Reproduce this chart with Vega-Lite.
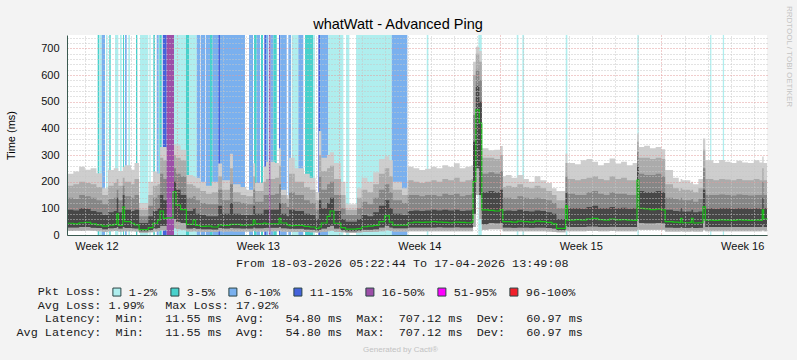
{
  "$schema": "https://vega.github.io/schema/vega-lite/v6.json",
  "width": 700,
  "height": 200,
  "autosize": {"type": "none"},
  "padding": {"left": 67, "top": 35, "right": 30, "bottom": 125},
  "background": "#f3f3f3",
  "view": {"fill": "#ffffff", "stroke": null},
  "datasets": {
    "loss": [
      {"a": 1.555, "b": 1.625, "c": "3-5%"},
      {"a": 1.625, "b": 1.729, "c": "1-2%"},
      {"a": 1.729, "b": 1.872, "c": "6-10%"},
      {"a": 1.915, "b": 1.980, "c": "1-2%"},
      {"a": 2.058, "b": 2.119, "c": "3-5%"},
      {"a": 2.306, "b": 2.449, "c": "1-2%"},
      {"a": 2.522, "b": 2.596, "c": "1-2%"},
      {"a": 2.653, "b": 2.696, "c": "3-5%"},
      {"a": 2.739, "b": 2.813, "c": "6-10%"},
      {"a": 2.882, "b": 2.956, "c": "1-2%"},
      {"a": 3.216, "b": 3.273, "c": "3-5%"},
      {"a": 3.390, "b": 3.750, "c": "1-2%"},
      {"a": 3.793, "b": 3.854, "c": "1-2%"},
      {"a": 3.967, "b": 4.040, "c": "3-5%"},
      {"a": 4.114, "b": 4.201, "c": "6-10%"},
      {"a": 4.227, "b": 4.331, "c": "3-5%"},
      {"a": 4.374, "b": 4.548, "c": "11-15%"},
      {"a": 4.548, "b": 4.864, "c": "16-50%"},
      {"a": 4.864, "b": 5.385, "c": "1-2%"},
      {"a": 5.385, "b": 5.515, "c": "3-5%"},
      {"a": 5.515, "b": 5.849, "c": "1-2%"},
      {"a": 5.849, "b": 5.992, "c": "6-10%"},
      {"a": 6.022, "b": 6.209, "c": "6-10%"},
      {"a": 6.239, "b": 6.425, "c": "6-10%"},
      {"a": 6.425, "b": 6.542, "c": "3-5%"},
      {"a": 6.542, "b": 6.785, "c": "6-10%"},
      {"a": 6.785, "b": 6.859, "c": "11-15%"},
      {"a": 6.859, "b": 7.943, "c": "6-10%"},
      {"a": 8.117, "b": 8.290, "c": "6-10%"},
      {"a": 8.333, "b": 8.451, "c": "3-5%"},
      {"a": 8.451, "b": 8.594, "c": "6-10%"},
      {"a": 8.637, "b": 8.724, "c": "3-5%"},
      {"a": 8.780, "b": 8.854, "c": "11-15%"},
      {"a": 8.854, "b": 8.954, "c": "6-10%"},
      {"a": 8.984, "b": 9.040, "c": "16-50%"},
      {"a": 9.040, "b": 9.170, "c": "6-10%"},
      {"a": 9.170, "b": 9.318, "c": "3-5%"},
      {"a": 9.418, "b": 9.474, "c": "11-15%"},
      {"a": 9.474, "b": 9.751, "c": "6-10%"},
      {"a": 9.821, "b": 9.938, "c": "6-10%"},
      {"a": 9.968, "b": 10.254, "c": "1-2%"},
      {"a": 10.254, "b": 10.471, "c": "6-10%"},
      {"a": 10.545, "b": 10.905, "c": "3-5%"},
      {"a": 10.905, "b": 10.979, "c": "1-2%"},
      {"a": 11.122, "b": 11.196, "c": "11-15%"},
      {"a": 11.196, "b": 11.556, "c": "6-10%"},
      {"a": 11.556, "b": 12.206, "c": "1-2%"},
      {"a": 12.323, "b": 12.466, "c": "1-2%"},
      {"a": 12.757, "b": 14.305, "c": "1-2%"},
      {"a": 14.305, "b": 14.981, "c": "6-10%"},
      {"a": 15.823, "b": 15.892, "c": "1-2%"},
      {"a": 18.060, "b": 18.208, "c": "1-2%"},
      {"a": 19.725, "b": 19.795, "c": "1-2%"},
      {"a": 19.968, "b": 20.042, "c": "1-2%"},
      {"a": 21.850, "b": 21.920, "c": "1-2%"},
      {"a": 24.955, "b": 25.016, "c": "1-2%"},
      {"a": 28.108, "b": 28.164, "c": "1-2%"},
      {"a": 28.659, "b": 28.715, "c": "1-2%"}
    ],
    "smoke": [
      {"d": 0.2241, "mn": 15, "lo": 28, "md": 44, "b1": 95, "b2": 140, "b3": 185, "mx": 230},
      {"d": 0.5, "mn": 16, "lo": 28, "md": 42, "b1": 92, "b2": 135, "b3": 190, "mx": 238},
      {"d": 0.75, "mn": 15, "lo": 30, "md": 46, "b1": 100, "b2": 150, "b3": 200, "mx": 256},
      {"d": 1.0, "mn": 17, "lo": 30, "md": 47, "b1": 98, "b2": 145, "b3": 195, "mx": 245},
      {"d": 1.25, "mn": 16, "lo": 27, "md": 42, "b1": 90, "b2": 140, "b3": 190, "mx": 250},
      {"d": 1.5, "mn": 14, "lo": 26, "md": 38, "b1": 85, "b2": 130, "b3": 180, "mx": 232},
      {"d": 1.75, "mn": 12, "lo": 22, "md": 33, "b1": 75, "b2": 115, "b3": 150, "mx": 175},
      {"d": 2.0, "mn": 14, "lo": 25, "md": 37, "b1": 85, "b2": 135, "b3": 185, "mx": 244},
      {"d": 2.25, "mn": 15, "lo": 26, "md": 40, "b1": 90, "b2": 140, "b3": 195, "mx": 250},
      {"d": 2.379, "mn": 15, "lo": 30, "md": 79, "b1": 140, "b2": 170, "b3": 210, "mx": 250},
      {"d": 2.45, "mn": 13, "lo": 24, "md": 36, "b1": 85, "b2": 130, "b3": 185, "mx": 240},
      {"d": 2.64, "mn": 14, "lo": 30, "md": 105, "b1": 150, "b2": 185, "b3": 215, "mx": 255},
      {"d": 2.72, "mn": 14, "lo": 26, "md": 50, "b1": 95, "b2": 145, "b3": 200, "mx": 262},
      {"d": 3.0, "mn": 14, "lo": 25, "md": 44, "b1": 90, "b2": 140, "b3": 190, "mx": 245},
      {"d": 3.15, "mn": 13, "lo": 24, "md": 38, "b1": 95, "b2": 150, "b3": 210, "mx": 270},
      {"d": 3.35, "mn": 8, "lo": 14, "md": 20, "b1": 45, "b2": 70, "b3": 95, "mx": 120},
      {"d": 3.75, "mn": 10, "lo": 18, "md": 28, "b1": 70, "b2": 110, "b3": 150, "mx": 200},
      {"d": 3.95, "mn": 13, "lo": 24, "md": 44, "b1": 90, "b2": 140, "b3": 185, "mx": 237},
      {"d": 4.15, "mn": 14, "lo": 26, "md": 56, "b1": 100, "b2": 150, "b3": 190, "mx": 231},
      {"d": 4.26, "mn": 18, "lo": 35, "md": 90, "b1": 150, "b2": 230, "b3": 290, "mx": 330},
      {"d": 4.4, "mn": 18, "lo": 35, "md": 62, "b1": 130, "b2": 210, "b3": 280, "mx": 330},
      {"d": 4.55, "mn": 18, "lo": 35, "md": 64, "b1": 130, "b2": 210, "b3": 280, "mx": 325},
      {"d": 4.82, "mn": 25, "lo": 60, "md": 162, "b1": 200, "b2": 250, "b3": 300, "mx": 340},
      {"d": 4.95, "mn": 22, "lo": 50, "md": 112, "b1": 170, "b2": 230, "b3": 290, "mx": 337},
      {"d": 5.15, "mn": 20, "lo": 45, "md": 95, "b1": 150, "b2": 220, "b3": 280, "mx": 320},
      {"d": 5.4, "mn": 13, "lo": 24, "md": 40, "b1": 90, "b2": 140, "b3": 190, "mx": 225},
      {"d": 5.69, "mn": 14, "lo": 26, "md": 56, "b1": 100, "b2": 145, "b3": 185, "mx": 219},
      {"d": 5.8, "mn": 13, "lo": 23, "md": 36, "b1": 80, "b2": 130, "b3": 175, "mx": 215},
      {"d": 6.0, "mn": 12, "lo": 22, "md": 32, "b1": 75, "b2": 120, "b3": 165, "mx": 200},
      {"d": 6.25, "mn": 12, "lo": 22, "md": 33, "b1": 70, "b2": 115, "b3": 155, "mx": 185},
      {"d": 6.5, "mn": 12, "lo": 21, "md": 30, "b1": 70, "b2": 115, "b3": 160, "mx": 200},
      {"d": 6.78, "mn": 14, "lo": 26, "md": 38, "b1": 110, "b2": 170, "b3": 220, "mx": 268},
      {"d": 6.95, "mn": 13, "lo": 24, "md": 36, "b1": 80, "b2": 130, "b3": 170, "mx": 205},
      {"d": 7.29, "mn": 14, "lo": 26, "md": 40, "b1": 120, "b2": 190, "b3": 250, "mx": 305},
      {"d": 7.42, "mn": 13, "lo": 25, "md": 40, "b1": 80, "b2": 125, "b3": 160, "mx": 190},
      {"d": 7.75, "mn": 13, "lo": 24, "md": 37, "b1": 75, "b2": 120, "b3": 150, "mx": 180},
      {"d": 8.0, "mn": 13, "lo": 24, "md": 38, "b1": 75, "b2": 115, "b3": 145, "mx": 170},
      {"d": 8.3, "mn": 15, "lo": 28, "md": 56, "b1": 110, "b2": 170, "b3": 220, "mx": 269},
      {"d": 8.38, "mn": 13, "lo": 25, "md": 42, "b1": 80, "b2": 125, "b3": 165, "mx": 195},
      {"d": 8.75, "mn": 13, "lo": 26, "md": 45, "b1": 95, "b2": 150, "b3": 200, "mx": 256},
      {"d": 8.85, "mn": 14, "lo": 27, "md": 42, "b1": 95, "b2": 150, "b3": 210, "mx": 275},
      {"d": 9.25, "mn": 14, "lo": 27, "md": 42, "b1": 95, "b2": 155, "b3": 215, "mx": 270},
      {"d": 9.42, "mn": 16, "lo": 30, "md": 62, "b1": 120, "b2": 190, "b3": 260, "mx": 325},
      {"d": 9.5, "mn": 13, "lo": 25, "md": 45, "b1": 80, "b2": 120, "b3": 150, "mx": 170},
      {"d": 9.75, "mn": 12, "lo": 24, "md": 38, "b1": 70, "b2": 105, "b3": 135, "mx": 150},
      {"d": 9.85, "mn": 12, "lo": 23, "md": 35, "b1": 95, "b2": 160, "b3": 230, "mx": 290},
      {"d": 10.1, "mn": 12, "lo": 23, "md": 36, "b1": 90, "b2": 150, "b3": 200, "mx": 250},
      {"d": 10.5, "mn": 11, "lo": 21, "md": 32, "b1": 80, "b2": 130, "b3": 180, "mx": 230},
      {"d": 10.75, "mn": 10, "lo": 20, "md": 30, "b1": 75, "b2": 120, "b3": 170, "mx": 215},
      {"d": 11.0, "mn": 9, "lo": 17, "md": 25, "b1": 60, "b2": 95, "b3": 130, "mx": 160},
      {"d": 11.15, "mn": 10, "lo": 20, "md": 30, "b1": 130, "b2": 220, "b3": 300, "mx": 390},
      {"d": 11.25, "mn": 12, "lo": 24, "md": 45, "b1": 100, "b2": 170, "b3": 240, "mx": 290},
      {"d": 11.5, "mn": 14, "lo": 30, "md": 70, "b1": 120, "b2": 190, "b3": 250, "mx": 300},
      {"d": 11.63, "mn": 16, "lo": 35, "md": 90, "b1": 140, "b2": 200, "b3": 260, "mx": 310},
      {"d": 11.8, "mn": 12, "lo": 24, "md": 44, "b1": 90, "b2": 150, "b3": 210, "mx": 270},
      {"d": 12.1, "mn": 10, "lo": 18, "md": 28, "b1": 60, "b2": 100, "b3": 150, "mx": 200},
      {"d": 12.3, "mn": 8, "lo": 14, "md": 22, "b1": 50, "b2": 75, "b3": 95, "mx": 115},
      {"d": 12.8, "mn": 9, "lo": 16, "md": 24, "b1": 60, "b2": 100, "b3": 140, "mx": 175},
      {"d": 13.0, "mn": 11, "lo": 20, "md": 31, "b1": 75, "b2": 125, "b3": 170, "mx": 215},
      {"d": 13.25, "mn": 11, "lo": 20, "md": 33, "b1": 70, "b2": 115, "b3": 160, "mx": 200},
      {"d": 13.5, "mn": 12, "lo": 22, "md": 36, "b1": 85, "b2": 140, "b3": 190, "mx": 235},
      {"d": 13.75, "mn": 14, "lo": 28, "md": 50, "b1": 110, "b2": 170, "b3": 230, "mx": 285},
      {"d": 14.0, "mn": 18, "lo": 35, "md": 72, "b1": 130, "b2": 190, "b3": 250, "mx": 295},
      {"d": 14.2, "mn": 15, "lo": 28, "md": 48, "b1": 100, "b2": 160, "b3": 220, "mx": 280},
      {"d": 14.35, "mn": 13, "lo": 25, "md": 37, "b1": 80, "b2": 130, "b3": 170, "mx": 200},
      {"d": 14.75, "mn": 13, "lo": 25, "md": 37, "b1": 75, "b2": 120, "b3": 150, "mx": 175},
      {"d": 15.0, "mn": 14, "lo": 28, "md": 46, "b1": 90, "b2": 150, "b3": 205, "mx": 256},
      {"d": 15.25, "mn": 14, "lo": 28, "md": 48, "b1": 92, "b2": 150, "b3": 200, "mx": 250},
      {"d": 15.5, "mn": 14, "lo": 28, "md": 47, "b1": 90, "b2": 145, "b3": 195, "mx": 244},
      {"d": 15.75, "mn": 14, "lo": 28, "md": 48, "b1": 92, "b2": 150, "b3": 200, "mx": 248},
      {"d": 16.0, "mn": 14, "lo": 28, "md": 50, "b1": 95, "b2": 150, "b3": 205, "mx": 256},
      {"d": 16.25, "mn": 14, "lo": 29, "md": 48, "b1": 92, "b2": 145, "b3": 200, "mx": 250},
      {"d": 16.5, "mn": 14, "lo": 28, "md": 47, "b1": 95, "b2": 155, "b3": 210, "mx": 262},
      {"d": 16.75, "mn": 14, "lo": 28, "md": 46, "b1": 92, "b2": 150, "b3": 205, "mx": 255},
      {"d": 17.0, "mn": 14, "lo": 29, "md": 48, "b1": 95, "b2": 155, "b3": 215, "mx": 269},
      {"d": 17.25, "mn": 14, "lo": 28, "md": 47, "b1": 90, "b2": 145, "b3": 200, "mx": 250},
      {"d": 17.5, "mn": 14, "lo": 28, "md": 46, "b1": 92, "b2": 150, "b3": 205, "mx": 256},
      {"d": 17.75, "mn": 14, "lo": 28, "md": 48, "b1": 95, "b2": 155, "b3": 210, "mx": 262},
      {"d": 17.83, "mn": 30, "lo": 80, "md": 200, "b1": 350, "b2": 450, "b3": 600, "mx": 650},
      {"d": 17.95, "mn": 150, "lo": 250, "md": 469, "b1": 560, "b2": 620, "b3": 680, "mx": 706},
      {"d": 18.1, "mn": 60, "lo": 150, "md": 420, "b1": 500, "b2": 580, "b3": 650, "mx": 690},
      {"d": 18.21, "mn": 20, "lo": 40, "md": 94, "b1": 160, "b2": 230, "b3": 290, "mx": 325},
      {"d": 18.5, "mn": 22, "lo": 45, "md": 92, "b1": 165, "b2": 235, "b3": 290, "mx": 318},
      {"d": 18.75, "mn": 22, "lo": 44, "md": 90, "b1": 160, "b2": 230, "b3": 285, "mx": 320},
      {"d": 19.0, "mn": 22, "lo": 45, "md": 95, "b1": 170, "b2": 240, "b3": 300, "mx": 334},
      {"d": 19.12, "mn": 14, "lo": 28, "md": 50, "b1": 90, "b2": 140, "b3": 180, "mx": 220},
      {"d": 19.25, "mn": 14, "lo": 28, "md": 50, "b1": 92, "b2": 140, "b3": 185, "mx": 225},
      {"d": 19.5, "mn": 14, "lo": 27, "md": 48, "b1": 90, "b2": 135, "b3": 180, "mx": 215},
      {"d": 19.75, "mn": 14, "lo": 28, "md": 52, "b1": 95, "b2": 145, "b3": 190, "mx": 225},
      {"d": 20.0, "mn": 14, "lo": 28, "md": 50, "b1": 90, "b2": 140, "b3": 180, "mx": 210},
      {"d": 20.25, "mn": 14, "lo": 27, "md": 48, "b1": 88, "b2": 135, "b3": 175, "mx": 200},
      {"d": 20.5, "mn": 14, "lo": 28, "md": 52, "b1": 92, "b2": 140, "b3": 185, "mx": 220},
      {"d": 20.75, "mn": 14, "lo": 28, "md": 50, "b1": 90, "b2": 135, "b3": 175, "mx": 205},
      {"d": 21.0, "mn": 13, "lo": 26, "md": 47, "b1": 85, "b2": 130, "b3": 165, "mx": 195},
      {"d": 21.25, "mn": 12, "lo": 24, "md": 42, "b1": 80, "b2": 120, "b3": 150, "mx": 175},
      {"d": 21.45, "mn": 10, "lo": 18, "md": 25, "b1": 60, "b2": 100, "b3": 130, "mx": 165},
      {"d": 21.84, "mn": 18, "lo": 35, "md": 109, "b1": 160, "b2": 220, "b3": 270, "mx": 306},
      {"d": 21.92, "mn": 14, "lo": 30, "md": 56, "b1": 100, "b2": 155, "b3": 210, "mx": 270},
      {"d": 22.25, "mn": 14, "lo": 30, "md": 58, "b1": 100, "b2": 150, "b3": 205, "mx": 265},
      {"d": 22.5, "mn": 14, "lo": 30, "md": 56, "b1": 98, "b2": 150, "b3": 210, "mx": 280},
      {"d": 22.75, "mn": 15, "lo": 32, "md": 60, "b1": 105, "b2": 160, "b3": 215, "mx": 285},
      {"d": 23.0, "mn": 15, "lo": 32, "md": 62, "b1": 110, "b2": 165, "b3": 220, "mx": 275},
      {"d": 23.25, "mn": 14, "lo": 30, "md": 58, "b1": 100, "b2": 155, "b3": 210, "mx": 262},
      {"d": 23.5, "mn": 14, "lo": 30, "md": 56, "b1": 100, "b2": 150, "b3": 205, "mx": 270},
      {"d": 23.75, "mn": 15, "lo": 31, "md": 60, "b1": 105, "b2": 160, "b3": 220, "mx": 287},
      {"d": 24.0, "mn": 14, "lo": 30, "md": 57, "b1": 100, "b2": 155, "b3": 210, "mx": 268},
      {"d": 24.25, "mn": 14, "lo": 30, "md": 58, "b1": 102, "b2": 155, "b3": 215, "mx": 275},
      {"d": 24.5, "mn": 14, "lo": 30, "md": 56, "b1": 98, "b2": 150, "b3": 205, "mx": 262},
      {"d": 24.75, "mn": 14, "lo": 30, "md": 55, "b1": 100, "b2": 150, "b3": 205, "mx": 270},
      {"d": 24.94, "mn": 20, "lo": 60, "md": 206, "b1": 260, "b2": 310, "b3": 350, "mx": 381},
      {"d": 25.02, "mn": 20, "lo": 45, "md": 100, "b1": 165, "b2": 230, "b3": 290, "mx": 330},
      {"d": 25.25, "mn": 20, "lo": 44, "md": 98, "b1": 160, "b2": 225, "b3": 290, "mx": 335},
      {"d": 25.5, "mn": 20, "lo": 44, "md": 95, "b1": 160, "b2": 225, "b3": 285, "mx": 325},
      {"d": 25.75, "mn": 20, "lo": 45, "md": 97, "b1": 165, "b2": 230, "b3": 290, "mx": 330},
      {"d": 26.0, "mn": 20, "lo": 44, "md": 94, "b1": 160, "b2": 220, "b3": 285, "mx": 322},
      {"d": 26.16, "mn": 13, "lo": 28, "md": 50, "b1": 95, "b2": 140, "b3": 190, "mx": 244},
      {"d": 26.5, "mn": 13, "lo": 27, "md": 48, "b1": 90, "b2": 135, "b3": 175, "mx": 215},
      {"d": 26.75, "mn": 13, "lo": 27, "md": 46, "b1": 88, "b2": 130, "b3": 165, "mx": 200},
      {"d": 26.83, "mn": 14, "lo": 30, "md": 62, "b1": 100, "b2": 140, "b3": 175, "mx": 210},
      {"d": 26.9, "mn": 13, "lo": 27, "md": 46, "b1": 88, "b2": 130, "b3": 170, "mx": 205},
      {"d": 27.25, "mn": 13, "lo": 27, "md": 47, "b1": 88, "b2": 130, "b3": 165, "mx": 195},
      {"d": 27.3, "mn": 14, "lo": 30, "md": 62, "b1": 95, "b2": 135, "b3": 170, "mx": 200},
      {"d": 27.37, "mn": 13, "lo": 26, "md": 45, "b1": 85, "b2": 125, "b3": 160, "mx": 190},
      {"d": 27.6, "mn": 13, "lo": 27, "md": 46, "b1": 88, "b2": 135, "b3": 175, "mx": 210},
      {"d": 27.8, "mn": 20, "lo": 55, "md": 106, "b1": 170, "b2": 250, "b3": 320, "mx": 362},
      {"d": 27.9, "mn": 14, "lo": 30, "md": 56, "b1": 100, "b2": 150, "b3": 210, "mx": 280},
      {"d": 28.25, "mn": 14, "lo": 30, "md": 55, "b1": 98, "b2": 150, "b3": 205, "mx": 270},
      {"d": 28.5, "mn": 14, "lo": 30, "md": 57, "b1": 100, "b2": 152, "b3": 210, "mx": 281},
      {"d": 28.75, "mn": 14, "lo": 30, "md": 56, "b1": 100, "b2": 150, "b3": 208, "mx": 275},
      {"d": 29.0, "mn": 14, "lo": 30, "md": 55, "b1": 98, "b2": 148, "b3": 205, "mx": 270},
      {"d": 29.25, "mn": 14, "lo": 30, "md": 57, "b1": 100, "b2": 152, "b3": 210, "mx": 278},
      {"d": 29.5, "mn": 14, "lo": 30, "md": 56, "b1": 100, "b2": 150, "b3": 205, "mx": 272},
      {"d": 29.75, "mn": 14, "lo": 30, "md": 55, "b1": 98, "b2": 148, "b3": 205, "mx": 270},
      {"d": 30.0, "mn": 14, "lo": 30, "md": 56, "b1": 100, "b2": 150, "b3": 210, "mx": 280},
      {"d": 30.25, "mn": 14, "lo": 30, "md": 55, "b1": 98, "b2": 150, "b3": 205, "mx": 272},
      {"d": 30.37, "mn": 18, "lo": 38, "md": 94, "b1": 140, "b2": 200, "b3": 250, "mx": 294},
      {"d": 30.43, "mn": 14, "lo": 30, "md": 60, "b1": 100, "b2": 150, "b3": 205, "mx": 270},
      {"d": 30.5758, "mn": 14, "lo": 30, "md": 58, "b1": 100, "b2": 150, "b3": 205, "mx": 270}
    ]
  },
  "layer": [
    {
      "data": {"name": "loss"},
      "transform": [{"filter": "datum.c != '16-50%'"}],
      "mark": {"type": "rect", "strokeWidth": 0},
      "encoding": {
        "x": {"field": "a", "type": "quantitative", "scale": {"domain": [0.2241, 30.5758], "nice": false, "zero": false},
          "axis": {"orient": "bottom", "values": [1,2,3,4,6,7,8,9,10,11,13,14,15,16,17,18,20,21,22,23,24,25,27,28,29,30], "grid": true, "gridColor": "#c6c6c6", "gridDash": [1, 2], "gridWidth": 1, "labels": false, "ticks": false, "domain": false, "title": null, "zindex": 1}},
        "x2": {"field": "b"},
        "color": {"field": "c", "type": "nominal",
          "scale": {"domain": ["1-2%", "3-5%", "6-10%", "11-15%", "16-50%", "51-95%", "96-100%"], "range": ["#afeeee", "#48d1cc", "#7ab0ee", "#4563dc", "#9d4fa8", "#ff00ff", "#f0202a"]},
          "legend": {"orient": "none", "legendX": 44, "legendY": 251, "direction": "horizontal", "columns": 7, "title": null, "padding": 0, "symbolType": "square", "symbolSize": 64, "symbolStrokeColor": "#2a4444", "symbolStrokeWidth": 1, "symbolOpacity": 1, "labelFont": "Liberation Mono", "labelFontSize": 11.8, "labelColor": "#1a1a1a", "labelOffset": 6, "columnPadding": 10}}
      }
    },
    {
      "data": {"name": "smoke"},
      "mark": {"type": "area", "interpolate": "step-after", "color": "#cecece", "opacity": 1},
      "encoding": {
        "x": {"field": "d", "type": "quantitative",
          "axis": {"orient": "bottom", "values": [5, 12, 19, 26], "grid": true, "gridColor": "#e29a9a", "gridDash": [1, 2], "gridWidth": 1, "labels": false, "ticks": false, "domain": false, "title": null, "zindex": 1}},
        "y": {"field": "mn", "type": "quantitative", "scale": {"domain": [0, 750], "nice": false, "zero": false},
          "axis": {"orient": "left", "values": [20,40,60,80,120,140,160,180,220,240,260,280,320,340,360,380,420,440,460,480,520,540,560,580,620,640,660,680,720,740], "grid": true, "gridColor": "#c6c6c6", "gridDash": [1, 2], "gridWidth": 1, "labels": false, "ticks": false, "domain": false, "title": null, "zindex": 1}},
        "y2": {"field": "mx"}
      }
    },
    {
      "data": {"name": "smoke"},
      "mark": {"type": "area", "interpolate": "step-after", "color": "#ababab", "opacity": 1},
      "encoding": {
        "x": {"field": "d", "type": "quantitative",
          "axis": {"orient": "bottom", "values": [1.5, 8.5, 15.5, 22.5, 29.5], "labelExpr": "'Week ' + (12 + floor(datum.value / 7))", "grid": false, "ticks": false, "domain": true, "domainColor": "#3a5a50", "domainWidth": 1, "labelFont": "Liberation Sans", "labelFontSize": 11, "labelColor": "#111111", "labelPadding": 5, "labelFlush": false, "labelOverlap": false, "title": null, "zindex": 1}},
        "y": {"field": "mn", "type": "quantitative",
          "axis": {"orient": "left", "values": [0, 100, 200, 300, 400, 500, 600, 700], "grid": true, "gridColor": "#e29a9a", "gridDash": [1, 2], "gridWidth": 1, "ticks": false, "domain": true, "domainColor": "#3a5a50", "domainWidth": 1, "labelFont": "Liberation Sans", "labelFontSize": 11, "labelColor": "#111111", "labelPadding": 8, "title": "Time (ms)", "titleFont": "Liberation Sans", "titleFontSize": 11, "titleFontWeight": "normal", "titleColor": "#000000", "titleX": -56, "titleY": 100, "titleAngle": 270, "titleAlign": "center", "titleBaseline": "middle", "zindex": 1}},
        "y2": {"field": "b3"}
      }
    },
    {
      "data": {"name": "smoke"},
      "mark": {"type": "area", "interpolate": "step-after", "color": "#868686", "opacity": 1},
      "encoding": {
        "x": {"field": "d", "type": "quantitative",
          "axis": {"orient": "bottom", "labels": false, "ticks": false, "domain": false, "grid": false,
            "title": [
              "\u200b\u00a0\u00a0\u00a0\u00a0\u00a0\u00a0\u00a0\u00a0\u00a0\u00a0\u00a0\u00a0\u00a0\u00a0\u00a0\u00a0\u00a0\u00a0\u00a0\u00a0\u00a0\u00a0\u00a0\u00a0\u00a0\u00a0\u00a0\u00a0\u00a0\u00a0\u00a0From\u00a018-03-2026\u00a005:22:44\u00a0To\u00a017-04-2026\u00a013:49:08",
              "\u200b",
              "\u200b\u00a0\u00a0\u00a0Pkt\u00a0Loss:",
              "\u200b\u00a0\u00a0\u00a0Avg\u00a0Loss:\u00a01.99%\u00a0\u00a0\u00a0Max\u00a0Loss:\u00a017.92%",
              "\u200b\u00a0\u00a0\u00a0\u00a0Latency:\u00a0\u00a0Min:\u00a0\u00a0\u00a011.55\u00a0ms\u00a0\u00a0Avg:\u00a0\u00a0\u00a054.80\u00a0ms\u00a0\u00a0Max:\u00a0\u00a0707.12\u00a0ms\u00a0\u00a0Dev:\u00a0\u00a0\u00a060.97\u00a0ms",
              "\u200bAvg\u00a0Latency:\u00a0\u00a0Min:\u00a0\u00a0\u00a011.55\u00a0ms\u00a0\u00a0Avg:\u00a0\u00a0\u00a054.80\u00a0ms\u00a0\u00a0Max:\u00a0\u00a0707.12\u00a0ms\u00a0\u00a0Dev:\u00a0\u00a0\u00a060.97\u00a0ms"
            ],
            "titleFont": "Liberation Mono", "titleFontSize": 11.8, "titleFontWeight": "normal", "titleColor": "#1a1a1a", "titleAlign": "left", "titleX": -51, "titleY": 31.7, "titleBaseline": "alphabetic", "titleLineHeight": 13.8}},
        "y": {"field": "lo", "type": "quantitative",
          "axis": {"orient": "right", "labels": false, "ticks": false, "domain": false, "grid": false, "title": "RRDTOOL / TOBI OETIKER", "titleFont": "Liberation Sans", "titleFontSize": 8, "titleFontWeight": "normal", "titleColor": "#c4c4c4", "titleAngle": 90, "titleX": 21, "titleY": 21, "titleAlign": "center", "titleBaseline": "middle"}},
        "y2": {"field": "b2"}
      }
    },
    {
      "data": {"name": "smoke"},
      "mark": {"type": "area", "interpolate": "step-after", "color": "#474747", "opacity": 1},
      "encoding": {
        "x": {"field": "d", "type": "quantitative",
          "axis": {"orient": "bottom", "labels": false, "ticks": false, "domain": false, "grid": false, "title": "Generated by Cacti®", "titleFont": "Liberation Sans", "titleFontSize": 8, "titleFontWeight": "normal", "titleColor": "#c2c2c2", "titleAlign": "center", "titleX": 333, "titleY": 116.5, "titleBaseline": "alphabetic"}},
        "y": {"field": "lo", "type": "quantitative", "axis": null},
        "y2": {"field": "b1"}
      }
    },
    {
      "data": {"name": "loss"},
      "transform": [{"filter": "datum.c == '16-50%'"}],
      "mark": {"type": "rect", "strokeWidth": 0},
      "encoding": {
        "x": {"field": "a", "type": "quantitative", "axis": null},
        "x2": {"field": "b"},
        "color": {"field": "c", "type": "nominal"}
      }
    },
    {
      "data": {"name": "smoke"},
      "mark": {"type": "line", "interpolate": "step-after", "color": "#19c219", "strokeWidth": 1.2},
      "encoding": {
        "x": {"field": "d", "type": "quantitative",
          "axis": {"orient": "top", "labels": false, "ticks": false, "domain": false, "grid": false, "title": "whatWatt - Advanced Ping", "titleFont": "Liberation Sans", "titleFontSize": 14.5, "titleFontWeight": "normal", "titleColor": "#000000", "titleAlign": "center", "titleX": 330.5, "titleY": -7, "titleBaseline": "alphabetic"}},
        "y": {"field": "md", "type": "quantitative", "axis": null}
      }
    }
  ],
  "resolve": {"axis": {"x": "independent", "y": "independent"}}
}
